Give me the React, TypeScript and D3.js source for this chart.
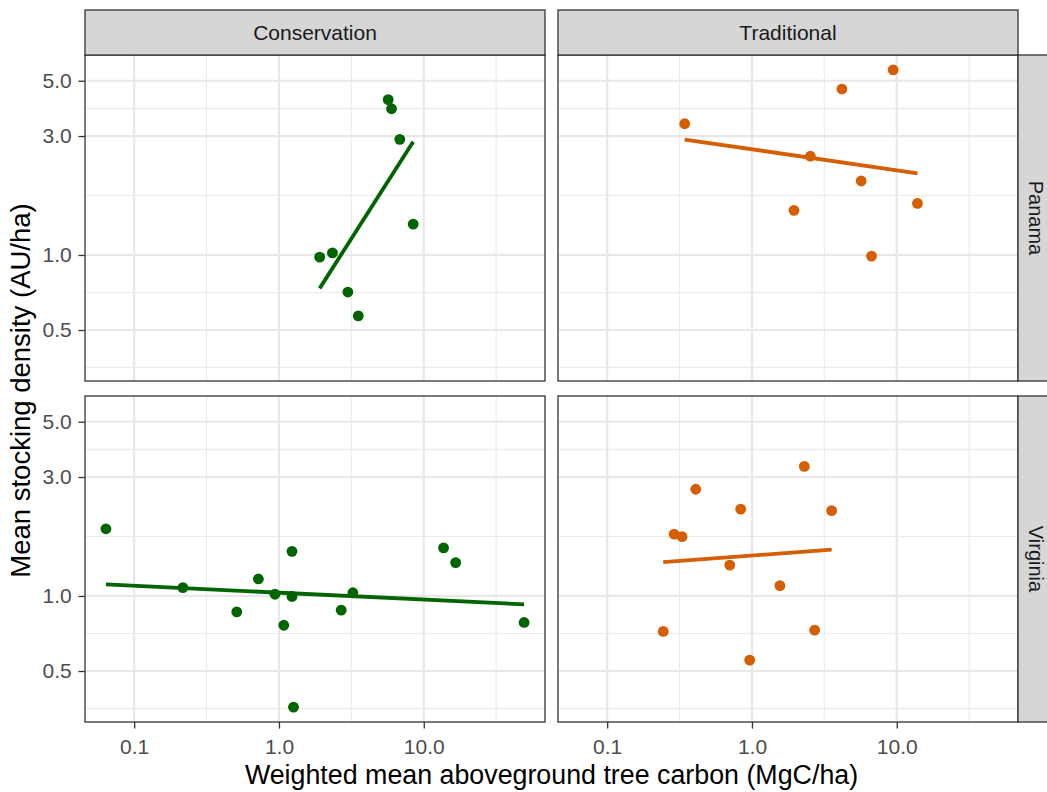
import React, { useEffect, useRef } from "react";
import * as d3 from "d3";

// facet labels
const systems = ["Conservation", "Traditional"];
const regions = ["Panama", "Virginia"];
const systemColors = ["#006400", "#D55E00"];

// Panama (carbon in MgC/ha, density in AU/ha)
const consPanamaCarbon = [1.91, 2.34, 5.68, 5.99, 6.83, 8.45, 2.99, 3.53];
const consPanamaDensity = [0.98, 1.02, 4.2, 3.86, 2.91, 1.33, 0.71, 0.57];
const tradPanamaCarbon = [0.343, 9.44, 4.18, 2.53, 5.68, 1.95, 13.9, 6.69];
const tradPanamaDensity = [3.36, 5.53, 4.63, 2.49, 1.98, 1.51, 1.61, 0.99];

// Virginia
const consVirginiaCarbon = [0.0638, 0.217, 0.511, 0.721, 0.938, 1.23, 1.23, 1.08, 1.26, 2.69, 3.24, 13.7, 16.6, 49.3];
const consVirginiaDensity = [1.86, 1.08, 0.863, 1.17, 1.016, 1.51, 0.995, 0.763, 0.358, 0.877, 1.03, 1.56, 1.36, 0.783];
const tradVirginiaCarbon = [0.244, 0.29, 0.329, 0.409, 0.702, 0.836, 0.964, 1.56, 2.3, 2.71, 3.55];
const tradVirginiaDensity = [0.721, 1.77, 1.73, 2.68, 1.33, 2.23, 0.553, 1.1, 3.31, 0.729, 2.2];

// axis breaks
const xTicks = [0.1, 1, 10];
const xTickLabels = ["0.1", "1.0", "10.0"];
const xMinor = [0.0316, 0.316, 3.16, 31.6];
const yTicks = [0.5, 1, 3, 5];
const yTickLabels = ["0.5", "1.0", "3.0", "5.0"];
const yMinor = [0.354, 0.707, 1.732, 3.873];

const W = 1047;
const H = 792;
const FONT = "'Liberation Sans', Arial, Helvetica, sans-serif";

// least squares fit in log-log space, like geom_smooth(method = "lm") on log10 scales
function fitLine(xs: number[], ys: number[]) {
    const lx = xs.map(Math.log10);
    const ly = ys.map(Math.log10);
    const mx = d3.mean(lx) as number;
    const my = d3.mean(ly) as number;
    const b = d3.sum(lx, (v, i) => (v - mx) * (ly[i] - my)) / d3.sum(lx, v => (v - mx) ** 2);
    const a = my - b * mx;
    const [x0, x1] = d3.extent(lx) as [number, number];
    return [x0, x1].map(u => [10 ** u, 10 ** (a + b * u)] as [number, number]);
}

// ggplot style 5% expansion of the log range
function expandLog(values: number[]) {
    const [lo, hi] = d3.extent(values.map(Math.log10)) as [number, number];
    const pad = (hi - lo) * 0.05;
    return [10 ** (lo - pad), 10 ** (hi + pad)];
}

export default function App() {
    const ref = useRef<SVGSVGElement>(null);

    useEffect(() => {
        const svg = d3.select(ref.current);
        svg.selectAll("*").remove();

        const panels = [
            { row: 0, col: 0, x: consPanamaCarbon, y: consPanamaDensity },
            { row: 0, col: 1, x: tradPanamaCarbon, y: tradPanamaDensity },
            { row: 1, col: 0, x: consVirginiaCarbon, y: consVirginiaDensity },
            { row: 1, col: 1, x: tradVirginiaCarbon, y: tradVirginiaDensity },
        ];

        // layout of the facet grid
        const left = 85, right = 1018, top = 55, bottom = 722;
        const gapX = 13, gapY = 15;
        const pw = (right - left - gapX) / 2;
        const ph = (bottom - top - gapY) / 2;
        const stripH = 45;

        const xScale = d3.scaleLog()
            .domain(expandLog(panels.flatMap(p => p.x)))
            .range([0, pw]);
        const yScale = d3.scaleLog()
            .domain(expandLog(panels.flatMap(p => p.y)))
            .range([ph, 0]);

        // only keep breaks that fall inside the panel
        const inX = (d: number) => d >= xScale.domain()[0] && d <= xScale.domain()[1];
        const inY = (d: number) => d >= yScale.domain()[0] && d <= yScale.domain()[1];

        svg.append("rect").attr("width", W).attr("height", H).attr("fill", "#ffffff");

        panels.forEach(p => {
            const px = left + p.col * (pw + gapX);
            const py = top + p.row * (ph + gapY);
            const g = svg.append("g").attr("transform", `translate(${px},${py})`);
            const color = systemColors[p.col];

            g.append("rect").attr("width", pw).attr("height", ph).attr("fill", "#ffffff");

            // minor grid
            g.selectAll(".xminor").data(xMinor.filter(inX)).enter().append("line")
                .attr("x1", d => xScale(d)).attr("x2", d => xScale(d))
                .attr("y1", 0).attr("y2", ph)
                .attr("stroke", "#ebebeb").attr("stroke-width", 1.1);
            g.selectAll(".yminor").data(yMinor.filter(inY)).enter().append("line")
                .attr("x1", 0).attr("x2", pw)
                .attr("y1", d => yScale(d)).attr("y2", d => yScale(d))
                .attr("stroke", "#ebebeb").attr("stroke-width", 1.1);

            // major grid
            g.selectAll(".xmajor").data(xTicks.filter(inX)).enter().append("line")
                .attr("x1", d => xScale(d)).attr("x2", d => xScale(d))
                .attr("y1", 0).attr("y2", ph)
                .attr("stroke", "#e8e8e8").attr("stroke-width", 2.2);
            g.selectAll(".ymajor").data(yTicks.filter(inY)).enter().append("line")
                .attr("x1", 0).attr("x2", pw)
                .attr("y1", d => yScale(d)).attr("y2", d => yScale(d))
                .attr("stroke", "#e8e8e8").attr("stroke-width", 2.2);

            // points
            g.selectAll(".pt").data(p.x).enter().append("circle")
                .attr("cx", d => xScale(d))
                .attr("cy", (d, i) => yScale(p.y[i]))
                .attr("r", 5.4)
                .attr("fill", color);

            // fitted line
            g.append("path")
                .datum(fitLine(p.x, p.y))
                .attr("d", d3.line<[number, number]>().x(d => xScale(d[0])).y(d => yScale(d[1])))
                .attr("fill", "none")
                .attr("stroke", color)
                .attr("stroke-width", 3.8);

            g.append("rect").attr("width", pw).attr("height", ph)
                .attr("fill", "none").attr("stroke", "#333333").attr("stroke-width", 1.3);

            // bottom axis on the last row
            if (p.row === 1) {
                const ax = g.append("g")
                    .attr("transform", `translate(0,${ph})`)
                    .call(d3.axisBottom(xScale).tickValues(xTicks)
                        .tickFormat((d, i) => xTickLabels[i]).tickSize(6.6).tickPadding(10));
                ax.select(".domain").remove();
                ax.selectAll("line").attr("stroke", "#333333").attr("stroke-width", 1.3);
                ax.selectAll("text").attr("fill", "#4d4d4d")
                    .style("font-family", FONT).style("font-size", "21px");
            }

            // left axis on the first column
            if (p.col === 0) {
                const ay = g.append("g")
                    .call(d3.axisLeft(yScale).tickValues(yTicks)
                        .tickFormat((d, i) => yTickLabels[i]).tickSize(6.6).tickPadding(6.7));
                ay.select(".domain").remove();
                ay.selectAll("line").attr("stroke", "#333333").attr("stroke-width", 1.3);
                ay.selectAll("text").attr("fill", "#4d4d4d")
                    .style("font-family", FONT).style("font-size", "21px");
            }
        });

        // top strips
        systems.forEach((s, c) => {
            const sx = left + c * (pw + gapX);
            svg.append("rect").attr("x", sx).attr("y", top - stripH)
                .attr("width", pw).attr("height", stripH)
                .attr("fill", "#d6d6d6").attr("stroke", "#333333").attr("stroke-width", 1.3);
            svg.append("text").attr("x", sx + pw / 2).attr("y", top - stripH / 2)
                .attr("dy", "0.35em").attr("text-anchor", "middle")
                .style("font-family", FONT).style("font-size", "21px").attr("fill", "#1a1a1a")
                .text(s);
        });

        // right strips (cut by the picture's edge, like the original)
        regions.forEach((r, i) => {
            const sy = top + i * (ph + gapY);
            svg.append("rect").attr("x", right).attr("y", sy)
                .attr("width", stripH).attr("height", ph)
                .attr("fill", "#d6d6d6").attr("stroke", "#333333").attr("stroke-width", 1.3);
            svg.append("text")
                .attr("transform", `translate(1036,${sy + ph / 2}) rotate(90)`)
                .attr("dy", "0.35em").attr("text-anchor", "middle")
                .style("font-family", FONT).style("font-size", "20px").attr("fill", "#1a1a1a")
                .text(r);
        });

        // axis titles
        svg.append("text")
            .attr("x", (left + right) / 2).attr("y", 784)
            .attr("text-anchor", "middle")
            .style("font-family", FONT).style("font-size", "26.8px").attr("fill", "#000000")
            .text("Weighted mean aboveground tree carbon (MgC/ha)");

        svg.append("text")
            .attr("transform", `translate(30,${(top + bottom) / 2 + 2}) rotate(-90)`)
            .attr("text-anchor", "middle")
            .style("font-family", FONT).style("font-size", "27.5px").attr("fill", "#000000")
            .text("Mean stocking density (AU/ha)");
    }, []);

    return (
        <svg ref={ref} width={W} height={H}
            style={{ position: "absolute", left: 0, top: 0, display: "block" }} />
    );
}
